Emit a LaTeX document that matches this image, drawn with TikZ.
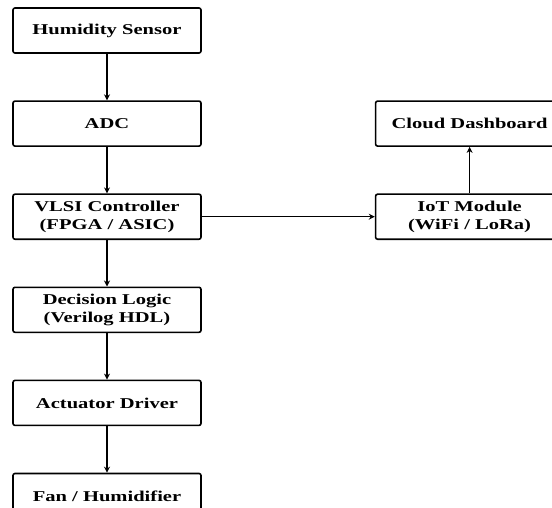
\documentclass[tikz,border=0pt]{standalone}
\usepackage{fontspec}
\setmainfont{Liberation Serif}[FakeStretch=1.37]
\usetikzlibrary{arrows.meta,positioning}

\begin{document}
\begin{tikzpicture}[
  block/.style={draw, line width=0.8pt, rounded corners=1pt,
    minimum width=94pt, minimum height=22.5pt, inner sep=1pt,
    align=center, font=\fontsize{7.5}{9}\selectfont\bfseries},
  flow/.style={line width=0.8pt, -{Stealth[length=3pt,width=3pt]}},
  node distance=23.25pt
]
  \useasboundingbox (0,0) rectangle (276pt,-254pt);
  % Main control chain
  \node[block] (sensor) at (53.5pt,-15.25pt) {Humidity Sensor};
  \node[block, below=of sensor] (adc) {ADC};
  \node[block, below=of adc] (vlsi) {VLSI Controller\\(FPGA / ASIC)};
  \node[block, below=of vlsi] (logic) {Decision Logic\\(Verilog HDL)};
  \node[block, below=of logic] (driver) {Actuator Driver};
  \node[block, below=of driver] (fan) {Fan / Humidifier};
  % Remote monitoring branch
  \node[block, right=86.5pt of vlsi] (iot) {IoT Module\\(WiFi / LoRa)};
  \node[block, above=of iot] (cloud) {Cloud Dashboard};
  % Connections
  \draw[flow] (sensor) -- (adc);
  \draw[flow] (adc) -- (vlsi);
  \draw[flow] (vlsi) -- (logic);
  \draw[flow] (logic) -- (driver);
  \draw[flow] (driver) -- (fan);
  \draw[flow] (vlsi) -- (iot);
  \draw[flow] (iot) -- (cloud);
\end{tikzpicture}
\end{document}
